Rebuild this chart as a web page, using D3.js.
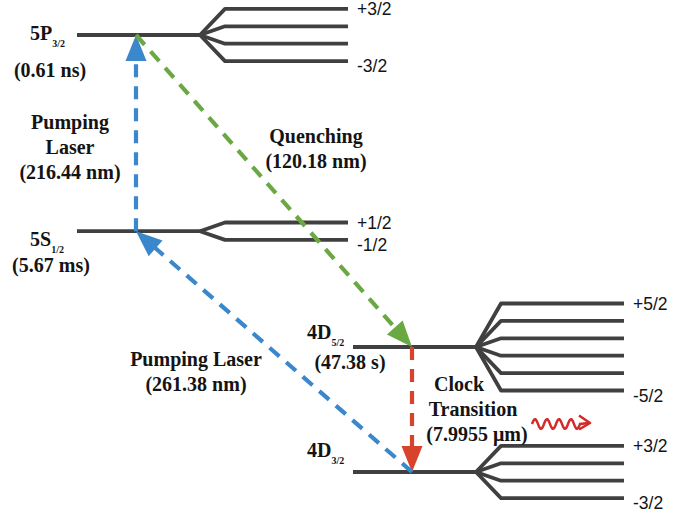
<!DOCTYPE html>
<html>
<head>
<meta charset="utf-8">
<script src="https://cdn.jsdelivr.net/npm/d3@7"></script>
<style>
  html, body { margin: 0; padding: 0; background: #fff; }
  svg { display: block; }
  .serif { font-family: "Times New Roman", "Liberation Serif", Times, "DejaVu Serif", serif; font-weight: bold; }
  .sans { font-family: Arial, "Liberation Sans", Helvetica, sans-serif; }
</style>
</head>
<body>
<svg id="chart" width="690" height="515"></svg>
<script>
// ---------- data ----------
const levelNames   = ["5P", "5S", "4D", "4D"];
const levelSubs    = ["3/2", "1/2", "5/2", "3/2"];
const lifetimes    = ["(0.61 ns)", "(5.67 ms)", "(47.38 s)", ""];
const levelHeights = [1.0, 0.551, 0.286, 0.0];     // schematic energy (arbitrary units)
const levelColumn  = [0, 0, 1, 1];
const sublevelCount = [4, 2, 6, 4];
const sublevelTop    = ["+3/2", "+1/2", "+5/2", "+3/2"];
const sublevelBottom = ["-3/2", "-1/2", "-5/2", "-3/2"];

const transFrom   = [1, 0, 2, 3];
const transTo     = [0, 2, 3, 1];
const transColor  = ["#3b87cc", "#6aa843", "#d8432b", "#3b87cc"];
const transLabels = [
  ["Pumping", "Laser", "(216.44 nm)"],
  ["Quenching", "(120.18 nm)"],
  ["Clock", "Transition", "(7.9955 μm)"],
  ["Pumping Laser", "(261.38 nm)"]
];

// ---------- layout ----------
const svg = d3.select("#chart");
const y = d3.scaleLinear().domain([0, 1]).range([472, 35]);
const colX = d3.scaleLinear().domain([0, 1]).range([77, 353]);
const mainLen = 123, forkLen = 25, subLen = 123, subGap = 17.4, attach = 59;
const levelColor = "#404040";
const textColor = "#141414";

// ---------- levels ----------
levelNames.forEach((name, i) => {
  const x0 = colX(levelColumn[i]);
  const yy = y(levelHeights[i]);
  const g = svg.append("g");
  const n = sublevelCount[i];
  const xs = x0 + mainLen, xf = xs + forkLen, xe = xf + subLen;
  const subYs = d3.range(n).map(k => yy + (k - (n - 1) / 2) * subGap);
  subYs.forEach(sy => {
    g.append("path")
      .attr("d", `M${xs},${yy}L${xf},${sy}L${xe},${sy}`)
      .attr("fill", "none").attr("stroke", levelColor)
      .attr("stroke-width", 3.8).attr("stroke-linejoin", "round");
  });
  g.append("line").attr("x1", x0).attr("x2", xs + 1).attr("y1", yy).attr("y2", yy)
    .attr("stroke", levelColor).attr("stroke-width", 3.8);
  // sublevel labels
  g.append("text").attr("class", "sans").attr("x", xe + 9).attr("y", subYs[0] + 6)
    .attr("font-size", 17.5).attr("fill", textColor)
    .text(sublevelTop[i]);
  g.append("text").attr("class", "sans").attr("x", xe + 9).attr("y", subYs[n - 1] + 11)
    .attr("font-size", 17.5).attr("fill", textColor)
    .text(sublevelBottom[i]);
});

// level name labels
const nameOffsets = [[-47, 5], [-47, 15], [-46, -8], [-46, -15]];
levelNames.forEach((name, i) => {
  const x0 = colX(levelColumn[i]);
  const yy = y(levelHeights[i]);
  const t = svg.append("text").attr("class", "serif")
    .attr("x", x0 + nameOffsets[i][0]).attr("y", yy + nameOffsets[i][1])
    .attr("font-size", 20).attr("fill", textColor);
  t.append("tspan").text(name);
  t.append("tspan").attr("dy", 7).attr("font-size", 10).text(levelSubs[i]);
});
const lifeOffsets = [[-27, 42], [-26, 41], [-3, 22]];
lifetimes.forEach((s, i) => {
  if (!s) return;
  const x0 = colX(levelColumn[i]);
  const yy = y(levelHeights[i]);
  svg.append("text").attr("class", "serif")
    .attr("x", x0 + lifeOffsets[i][0]).attr("y", yy + lifeOffsets[i][1])
    .attr("text-anchor", "middle")
    .attr("font-size", 20).attr("fill", textColor).text(s);
});

// ---------- transitions ----------
const headLen = 26, headHalf = 10.5;
transFrom.forEach((f, i) => {
  const t = transTo[i];
  const x1 = colX(levelColumn[f]) + attach, y1 = y(levelHeights[f]);
  const x2 = colX(levelColumn[t]) + attach, y2 = y(levelHeights[t]);
  const dx = x2 - x1, dy = y2 - y1, L = Math.hypot(dx, dy);
  const ux = dx / L, uy = dy / L;
  const bx = x2 - ux * headLen, by = y2 - uy * headLen;
  svg.append("line")
    .attr("x1", x1).attr("y1", y1).attr("x2", bx + ux * 2).attr("y2", by + uy * 2)
    .attr("stroke", transColor[i]).attr("stroke-width", 4.2)
    .attr("stroke-dasharray", "13,9");
  svg.append("path")
    .attr("d", `M${x2},${y2}L${bx - uy * headHalf},${by + ux * headHalf}L${bx + uy * headHalf},${by - ux * headHalf}Z`)
    .attr("fill", transColor[i]);
});

// transition labels
const labelPos = [[70, 129], [316, 143], [470, 391], [196, 366]];
const labelLine = [[0, 0, 0], [0, 0], [-11, 3, 7], [0, 0]];
transLabels.forEach((lines, i) => {
  lines.forEach((s, k) => {
    svg.append("text").attr("class", "serif")
      .attr("x", labelPos[i][0] + labelLine[i][k]).attr("y", labelPos[i][1] + k * 25)
      .attr("text-anchor", "middle")
      .attr("font-size", 20).attr("fill", textColor).text(s);
  });
});

// emitted photon (wavy arrow)
const waveX0 = 532, waveX1 = 580, waveY = 424, waveAmp = 4.8, wavePeriods = 4;
const wave = d3.range(0, 1.0001, 0.01).map(t => [waveX0 + t * (waveX1 - waveX0), waveY - waveAmp * Math.sin(t * wavePeriods * 2 * Math.PI)]);
wave.push([589, 423]);
svg.append("path").attr("d", d3.line()(wave)).attr("fill", "none")
  .attr("stroke", "#d42a2a").attr("stroke-width", 2.5);
svg.append("path").attr("d", "M579,415.5L590,423L579,429.5").attr("fill", "none")
  .attr("stroke", "#d42a2a").attr("stroke-width", 2.6).attr("stroke-linejoin", "round");
</script>
</body>
</html>
